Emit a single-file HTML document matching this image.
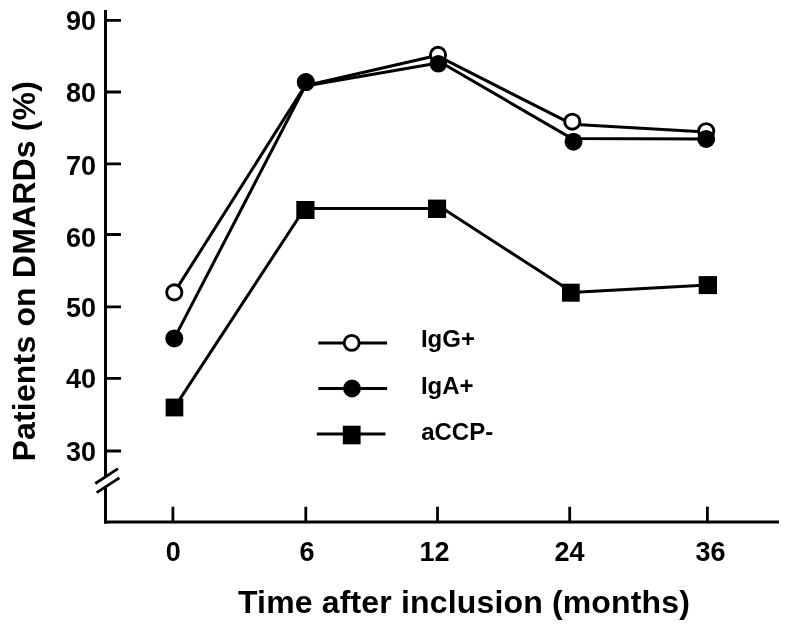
<!DOCTYPE html>
<html lang="en">
<head>
<meta charset="utf-8">
<title>Patients on DMARDs (%) over time after inclusion</title>
<style>
  html, body { margin: 0; padding: 0; background: #ffffff; }
  body { width: 785px; height: 629px; overflow: hidden; }
  svg { display: block; filter: grayscale(1); }
  text { font-family: "Liberation Sans", Arial, Helvetica, sans-serif; font-weight: bold; fill: #000; }
  .tick { font-size: 27px; }
  .leg { font-size: 24px; }
  .title { font-size: 32px; letter-spacing: 0.16px; }
  .ax { stroke: #000; stroke-width: 3; fill: none; stroke-linecap: butt; }
  .tk { stroke: #000; stroke-width: 2.8; fill: none; }
  .ln { stroke: #000; stroke-width: 3; fill: none; stroke-linejoin: round; }
  .open { fill: #fff; stroke: #000; stroke-width: 2.9; }
  .solid { fill: #000; stroke: none; }
</style>
</head>
<body>
<svg width="785" height="629" viewBox="0 0 785 629">
  <rect x="0" y="0" width="785" height="629" fill="#ffffff"/>

  <!-- axes -->
  <path class="ax" d="M105.5 10 V476"/>
  <path class="ax" d="M105.5 487 V523.6"/>
  <path class="ax" d="M104 522.1 H779"/>
  <!-- axis break -->
  <path class="tk" d="M95.3 483.5 L118 468.7"/>
  <path class="tk" d="M96.6 492.7 L119.4 477.9"/>

  <!-- y ticks -->
  <path class="tk" d="M105.5 20.4 H121 M105.5 92 H121 M105.5 163.9 H121 M105.5 234.5 H121 M105.5 306.8 H121 M105.5 378.3 H121 M105.5 451 H121"/>
  <!-- x ticks -->
  <path class="tk" d="M172.9 522 V506.7 M305.8 522 V506.7 M437.5 522 V506.7 M569.7 522 V506.7 M707.4 522 V506.7"/>

  <!-- y tick labels -->
  <g class="tick" text-anchor="end">
    <text x="96" y="30">90</text>
    <text x="96" y="102">80</text>
    <text x="96" y="174.5">70</text>
    <text x="96" y="247.2">60</text>
    <text x="96" y="317.4">50</text>
    <text x="96" y="387.8">40</text>
    <text x="96" y="460.6">30</text>
  </g>
  <!-- x tick labels -->
  <g class="tick" text-anchor="middle">
    <text x="173.3" y="561">0</text>
    <text x="307.1" y="561">6</text>
    <text x="434.6" y="561">12</text>
    <text x="569.5" y="561">24</text>
    <text x="710.5" y="561">36</text>
  </g>

  <!-- axis titles -->
  <text class="title" x="464" y="612.7" text-anchor="middle">Time after inclusion (months)</text>
  <text class="title" transform="translate(34.8 271.2) rotate(-90)" text-anchor="middle">Patients on DMARDs (%)</text>

  <!-- series lines -->
  <path class="ln" d="M174.3 292.4 L305 85.8 L438 55.3 M438 56.2 L572 124.2 L706.2 132"/>
  <path class="ln" d="M174.3 338.4 L305.2 86 L438.2 62.9 M438 60.7 L572 138.6 L706.2 138.9"/>
  <path class="ln" d="M174.5 407.4 L303.6 210 M303.6 208.5 L437.1 208.6 M437.1 204.8 L570.9 291.3 M570.9 292.6 L707.8 285"/>

  <!-- IgG+ open circles -->
  <circle class="open" cx="174.3" cy="292.4" r="7.6"/>
  <circle class="open" cx="305.8" cy="82.2" r="7.4"/>
  <circle class="open" cx="438" cy="54.8" r="7.6"/>
  <circle class="open" cx="572.3" cy="121.7" r="7.6"/>
  <circle class="open" cx="706.2" cy="131.2" r="7.6"/>

  <!-- IgA+ filled circles -->
  <circle class="solid" cx="174.3" cy="338.4" r="9"/>
  <circle class="solid" cx="305.8" cy="82.1" r="9"/>
  <circle class="solid" cx="438.3" cy="63.8" r="8.8"/>
  <circle class="solid" cx="573.5" cy="141.7" r="9"/>
  <circle class="solid" cx="706.2" cy="138.9" r="9"/>

  <!-- aCCP- squares -->
  <rect class="solid" x="165.7" y="398.6" width="17.6" height="17.8"/>
  <rect class="solid" x="296.3" y="201" width="18.2" height="18"/>
  <rect class="solid" x="428" y="199.6" width="18.1" height="18.4"/>
  <rect class="solid" x="562" y="283.7" width="17.7" height="18"/>
  <rect class="solid" x="698.7" y="276.1" width="18.3" height="18"/>

  <!-- legend -->
  <path class="ln" d="M318.3 342.9 H387.1 M318.3 388.5 H387.1 M316.8 434.1 H385.4"/>
  <circle class="open" cx="351.7" cy="342.9" r="7.5"/>
  <circle class="solid" cx="352" cy="388.5" r="8.9"/>
  <rect class="solid" x="342.8" y="425.7" width="17.8" height="18.6"/>
  <g class="leg">
    <text x="420.9" y="347.3">IgG+</text>
    <text x="420.9" y="393.6">IgA+</text>
    <text x="421.2" y="439.5">aCCP-</text>
  </g>
</svg>
</body>
</html>
